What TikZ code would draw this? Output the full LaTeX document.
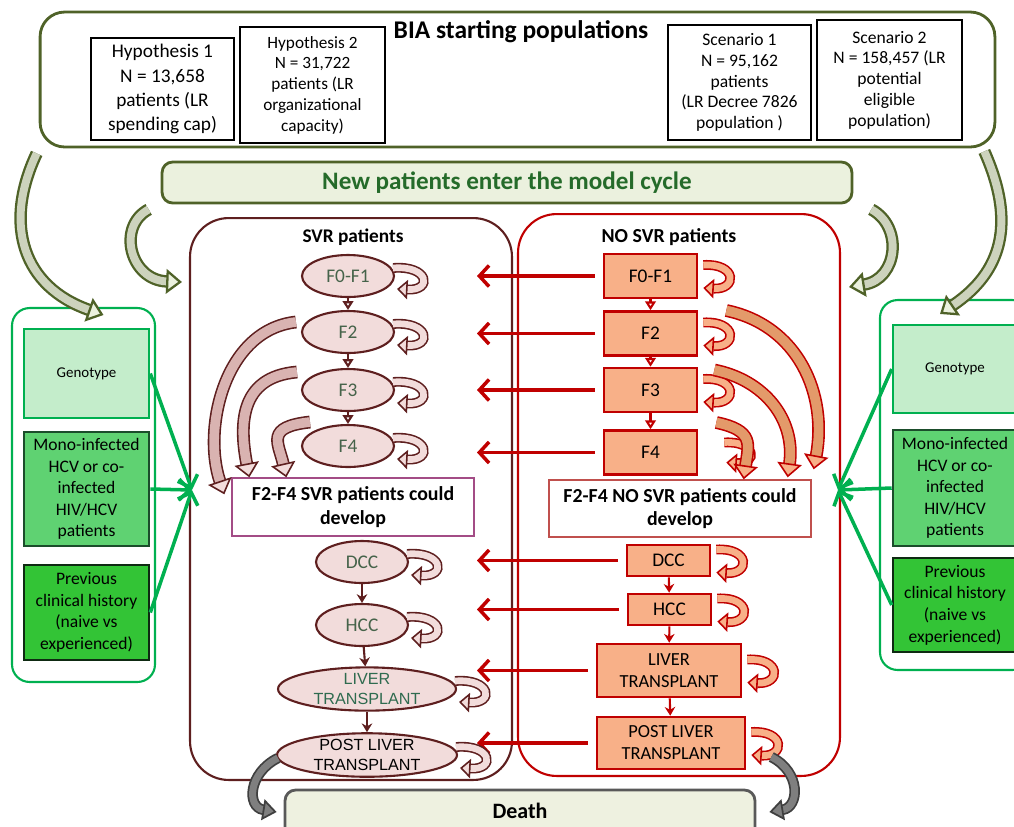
\documentclass[tikz,border=0pt]{standalone}
\usepackage{fontspec}
\setmainfont{Carlito}
\newfontfamily\arialfont{Liberation Sans}
\usetikzlibrary{arrows.meta,shapes.geometric,positioning}
\definecolor{oliveline}{HTML}{4F6228}
\definecolor{olivefill}{HTML}{EBF1DE}
\definecolor{oliveshaft}{HTML}{CDD3BD}
\definecolor{newtext}{HTML}{256B2A}
\definecolor{maroonline}{HTML}{5E1F1F}
\definecolor{pinkfill}{HTML}{F2DCDB}
\definecolor{pinkshaft}{HTML}{D9B3B1}
\definecolor{statetext}{HTML}{46634A}
\definecolor{lttext}{HTML}{2F6B4F}
\definecolor{redline}{HTML}{C00000}
\definecolor{orangefill}{HTML}{F8B088}
\definecolor{orangeshaft}{HTML}{E39A6A}
\definecolor{devsvr}{HTML}{A34C86}
\definecolor{devnosvr}{HTML}{C0504D}
\definecolor{greenline}{HTML}{00B050}
\definecolor{genfill}{HTML}{C4EDCB}
\definecolor{monofill}{HTML}{5FD272}
\definecolor{monoline}{HTML}{1B4D2B}
\definecolor{prevfill}{HTML}{33C436}
\definecolor{prevline}{HTML}{0E2A12}
\definecolor{deathfill}{HTML}{EEF1E0}
\definecolor{deathline}{HTML}{595959}
\definecolor{grayline}{HTML}{3F3F3F}
\definecolor{grayshaft}{HTML}{7F7F7F}

\begin{document}
\begin{tikzpicture}[x=0.02cm,y=0.02cm]
\tikzstyle{every node}+=[inner sep=0pt]
\tikzstyle{popbox}=[draw=black, line width=1.6pt, fill=white, align=center]
\tikzstyle{svrstate}=[ellipse, draw=maroonline, fill=pinkfill, line width=1.2pt, minimum width=1.84cm, minimum height=0.84cm, text=statetext, align=center, font=\fontsize{11}{12}\selectfont]
\tikzstyle{nosvrstate}=[rectangle, draw=redline, fill=orangefill, line width=1.5pt, minimum width=1.86cm, minimum height=0.88cm, align=center, font=\fontsize{11}{12.5}\selectfont]
\tikzstyle{devbox}=[draw, line width=0.8pt, fill=white, align=center, font=\bfseries\fontsize{11.3}{13.5}\selectfont]
\tikzstyle{infobox}=[line width=1.5pt, align=center, font=\fontsize{10}{12.3}\selectfont]
\tikzstyle{svrdown}=[maroonline, line width=1.2pt, -{Triangle[open, length=5pt, width=6pt]}]
\tikzstyle{svrstep}=[maroonline, line width=1.2pt, -{Stealth[length=5pt, width=6pt]}]
\tikzstyle{nosvrdown}=[redline, line width=1.2pt, -{Triangle[open, length=5pt, width=6pt]}]
\tikzstyle{nosvrstep}=[redline, line width=1.2pt, -{Stealth[length=5pt, width=6pt]}]
\tikzstyle{redarrow}=[redline, line width=2pt, shorten <=0.16cm, -{Straight Barb[length=5.5pt, width=12pt]}]
\tikzstyle{greenarrow}=[greenline, line width=2pt, -{Straight Barb[length=6pt, width=12pt]}]
\tikzstyle{svrloop}=[draw=maroonline, line width=0.9pt, double=pinkfill, double distance=3.8pt, -{Triangle[fill=pinkfill, length=6pt, width=11pt, line width=0.9pt]}]
\tikzstyle{nosvrloop}=[draw=redline, line width=0.9pt, double=orangefill, double distance=3.8pt, -{Triangle[fill=orangefill, length=6pt, width=11pt, line width=0.9pt]}]
\tikzstyle{svrbig}=[draw=maroonline, line width=0.9pt, double=pinkshaft, double distance=5.5pt, -{Triangle[fill=pinkfill, length=8pt, width=14pt, line width=0.9pt]}]
\tikzstyle{nosvrbig}=[draw=redline, line width=0.9pt, double=orangeshaft, double distance=5.5pt, -{Triangle[fill=orangefill, length=8pt, width=14pt, line width=0.9pt]}]
\tikzstyle{olivebig}=[draw=oliveline, line width=1.3pt, double=oliveshaft, double distance=4.5pt, -{Triangle[fill=olivefill, length=9pt, width=14pt, line width=1.3pt]}]
\tikzstyle{graybig}=[draw=grayline, line width=1pt, double=grayshaft, double distance=4pt, -{Triangle[fill=grayshaft, length=8pt, width=12pt, line width=1pt]}]
\useasboundingbox (0,0) rectangle (1014,-826);
\node[draw=oliveline, line width=1.6pt, rounded corners=14pt, minimum width=19.1cm, minimum height=2.7cm] (bia) at (517.5,-79.5) {};
\node[font=\bfseries\fontsize{14.5}{16}\selectfont] (biatitle) at (521,-32) {BIA starting populations};
\node[popbox, minimum width=2.86cm, minimum height=2.04cm, font=\fontsize{11}{13.7}\selectfont] (hyp1) at (162.5,-89) {Hypothesis 1\\N = 13,658\\patients (LR\\spending cap)};
\node[popbox, minimum width=2.9cm, minimum height=2.32cm, font=\fontsize{9.8}{11.8}\selectfont] (hyp2) at (312.5,-85) {Hypothesis 2\\N = 31,722\\patients (LR\\organizational\\capacity)};
\node[popbox, minimum width=2.86cm, minimum height=2.3cm, font=\fontsize{10}{11.8}\selectfont] (scen1) at (739.5,-82.5) {Scenario 1\\N = 95,162\\patients\\(LR Decree 7826\\population )};
\node[popbox, minimum width=2.9cm, minimum height=2.4cm, font=\fontsize{10}{11.8}\selectfont] (scen2) at (889.5,-80) {Scenario 2\\N = 158,457 (LR\\potential\\eligible\\population)};
\node[draw=oliveline, fill=olivefill, line width=1.6pt, rounded corners=6pt, minimum width=13.8cm, minimum height=0.82cm, text=newtext, font=\bfseries\fontsize{14.3}{16}\selectfont] (newp) at (507,-182.5) {New patients enter the model cycle};
\node[draw=maroonline, line width=1.2pt, rounded corners=22pt, minimum width=6.44cm, minimum height=11.24cm] (svr) at (351,-499) {};
\node[font=\bfseries\fontsize{11}{12}\selectfont] (svrtitle) at (353,-237) {SVR patients};
\node[draw=redline, line width=1.2pt, rounded corners=22pt, minimum width=6.44cm, minimum height=11.24cm] (nosvr) at (679,-495) {};
\node[font=\bfseries\fontsize{11.3}{12}\selectfont] (nosvrtitle) at (669,-237) {NO SVR patients};
\node[svrstate] (s01) at (348,-276) {F0-F1};
\node[svrstate] (s2) at (348,-332) {F2};
\node[svrstate] (s3) at (348,-390) {F3};
\node[svrstate] (s4) at (348,-446) {F4};
\node[devbox, draw=devsvr, minimum width=4.84cm, minimum height=1.16cm] (sdev) at (353,-507) {F2-F4 SVR patients could\\develop};
\node[svrstate] (sdcc) at (362,-562) {DCC};
\node[svrstate] (shcc) at (362,-625) {HCC};
\node[svrstate, minimum width=3.56cm, text=lttext, font=\arialfont\fontsize{9.2}{11}\selectfont] (slt) at (367,-689) {LIVER\\TRANSPLANT};
\node[svrstate, minimum width=3.6cm, minimum height=0.86cm, text=black, font=\arialfont\fontsize{9.2}{11}\selectfont] (splt) at (367,-755) {POST LIVER\\TRANSPLANT};
\node[nosvrstate] (n01) at (650.5,-276) {F0-F1};
\node[nosvrstate] (n2) at (650.5,-333.5) {F2};
\node[nosvrstate] (n3) at (650.5,-390) {F3};
\node[nosvrstate] (n4) at (650.5,-452.5) {F4};
\node[devbox, draw=devnosvr, minimum width=5.24cm, minimum height=1.14cm] (ndev) at (680,-508.5) {F2-F4 NO SVR patients could\\develop};
\node[nosvrstate, minimum width=1.66cm, minimum height=0.62cm] (ndcc) at (668.5,-560.5) {DCC};
\node[nosvrstate, minimum width=1.66cm, minimum height=0.62cm] (nhcc) at (669.5,-609.5) {HCC};
\node[nosvrstate, minimum width=2.88cm, minimum height=1.06cm, font=\fontsize{10.5}{12.5}\selectfont] (nlt) at (669,-670.5) {LIVER\\TRANSPLANT};
\node[nosvrstate, minimum width=2.96cm, minimum height=1.04cm, font=\fontsize{10.5}{12.5}\selectfont] (nplt) at (671,-743) {POST LIVER\\TRANSPLANT};
\node[draw=deathline, fill=deathfill, line width=1.6pt, rounded corners=6pt, minimum width=9.4cm, minimum height=1.2cm, label={[anchor=north, yshift=-0.28cm, font=\bfseries\fontsize{12.5}{15}\selectfont]north:Death}] (death) at (520,-820) {};
\node[draw=greenline, line width=1.2pt, rounded corners=10pt, minimum width=2.86cm, minimum height=7.48cm] (lpanel) at (83.5,-495) {};
\node[infobox, draw=greenline, fill=genfill, minimum width=2.5cm, minimum height=1.78cm, font=\fontsize{8.5}{10}\selectfont] (lgen) at (86.5,-373.5) {Genotype};
\node[infobox, draw=monoline, fill=monofill, minimum width=2.5cm, minimum height=2.28cm] (lmono) at (86.5,-489) {Mono-infected\\HCV or co-\\infected\\HIV/HCV\\patients};
\node[infobox, draw=prevline, fill=prevfill, minimum width=2.5cm, minimum height=1.9cm] (lprev) at (86.5,-612.5) {Previous\\clinical history\\(naive vs\\experienced)};
\node[draw=greenline, line width=1.2pt, rounded corners=10pt, minimum width=3cm, minimum height=7.4cm] (rpanel) at (955,-485) {};
\node[infobox, draw=greenline, fill=genfill, minimum width=2.48cm, minimum height=1.76cm, font=\fontsize{8.5}{10}\selectfont] (rgen) at (955,-369) {Genotype};
\node[infobox, draw=monoline, fill=monofill, minimum width=2.48cm, minimum height=2.32cm] (rmono) at (955,-488) {Mono-infected\\HCV or co-\\infected\\HIV/HCV\\patients};
\node[infobox, draw=prevline, fill=prevfill, minimum width=2.48cm, minimum height=1.88cm] (rprev) at (955,-605) {Previous\\clinical history\\(naive vs\\experienced)};
\coordinate (svrin) at (477,0);
\coordinate (svrport) at (192,-490);
\coordinate (nosvrport) at (838,-490);
\draw[svrdown] (s01) -- (s2);
\draw[svrdown] (s2) -- (s3);
\draw[svrdown] (s3) -- (s4);
\draw[svrstep] (sdcc) -- (shcc);
\draw[svrstep] (shcc) -- (slt);
\draw[svrstep] (slt) -- (splt);
\draw[nosvrdown] (n01) -- (n2);
\draw[nosvrdown] (n2) -- (n3);
\draw[nosvrdown] (n3) -- (n4);
\draw[nosvrstep] (ndcc) -- (nhcc);
\draw[nosvrstep] (nhcc) -- (nlt);
\draw[nosvrstep] (nlt) -- (nplt);
\draw[redarrow] (n01.west) -- (n01.west -| svrin);
\draw[redarrow] (n2.west) -- (n2.west -| svrin);
\draw[redarrow] (n3.west) -- (n3.west -| svrin);
\draw[redarrow] (n4.west) -- (n4.west -| svrin);
\draw[redarrow] (ndcc.west) -- (ndcc.west -| svrin);
\draw[redarrow] (nhcc.west) -- (nhcc.west -| svrin);
\draw[redarrow] (nlt.west) -- (nlt.west -| svrin);
\draw[redarrow] (nplt.west) -- (nplt.west -| svrin);
\draw[svrloop] ([shift={(-2,8)}]s01.east) .. controls +(36,3) and +(36,-2) .. ([shift={(2,-13)}]s01.east);
\draw[svrloop] ([shift={(-2,8)}]s2.east) .. controls +(36,3) and +(36,-2) .. ([shift={(2,-13)}]s2.east);
\draw[svrloop] ([shift={(-2,8)}]s3.east) .. controls +(36,3) and +(36,-2) .. ([shift={(2,-13)}]s3.east);
\draw[svrloop] ([shift={(-2,8)}]s4.east) .. controls +(36,3) and +(36,-2) .. ([shift={(2,-13)}]s4.east);
\draw[svrloop] ([shift={(-2,8)}]sdcc.east) .. controls +(36,3) and +(36,-2) .. ([shift={(2,-13)}]sdcc.east);
\draw[svrloop] ([shift={(-2,8)}]shcc.east) .. controls +(36,3) and +(36,-2) .. ([shift={(2,-13)}]shcc.east);
\draw[svrloop] ([shift={(-2,8)}]slt.east) .. controls +(36,3) and +(36,-2) .. ([shift={(2,-13)}]slt.east);
\draw[svrloop] ([shift={(-2,8)}]splt.east) .. controls +(36,3) and +(36,-2) .. ([shift={(2,-13)}]splt.east);
\draw[nosvrloop] ([shift={(5,11)}]n01.east) .. controls +(34,2) and +(34,-2) .. ([shift={(5,-12)}]n01.east);
\draw[nosvrloop] ([shift={(5,11)}]n2.east) .. controls +(34,2) and +(34,-2) .. ([shift={(5,-12)}]n2.east);
\draw[nosvrloop] ([shift={(5,11)}]n3.east) .. controls +(34,2) and +(34,-2) .. ([shift={(5,-12)}]n3.east);
\draw[nosvrloop] ([shift={(26,10)}]n4.east) .. controls +(32,2) and +(32,-2) .. ([shift={(28,-10)}]n4.east);
\draw[nosvrloop] ([shift={(5,11)}]ndcc.east) .. controls +(34,2) and +(34,-2) .. ([shift={(5,-12)}]ndcc.east);
\draw[nosvrloop] ([shift={(5,11)}]nhcc.east) .. controls +(34,2) and +(34,-2) .. ([shift={(5,-12)}]nhcc.east);
\draw[nosvrloop] ([shift={(5,11)}]nlt.east) .. controls +(34,2) and +(34,-2) .. ([shift={(5,-12)}]nlt.east);
\draw[nosvrloop] ([shift={(5,11)}]nplt.east) .. controls +(34,2) and +(34,-2) .. ([shift={(5,-12)}]nplt.east);
\draw[svrbig] ([shift={(-5,10)}]s2.west) .. controls +(-72,-8) and +(-22,65) .. ([shift={(-7,-17)}]sdev.north west);
\draw[svrbig] ([shift={(-4,18)}]s3.west) .. controls +(-58,-5) and +(-10,52) .. ([shift={(18,0)}]sdev.north west);
\draw[svrbig] ([shift={(-38,24)}]s4.center) .. controls +(-45,-5) and +(-8,35) .. ([shift={(55,0)}]sdev.north west);
\draw[nosvrbig] ([shift={(28,23)}]n2.east) .. controls +(72,-15) and +(14,75) .. ([shift={(2,10)}]ndev.north east);
\draw[nosvrbig] ([shift={(16,20)}]n3.east) .. controls +(50,-10) and +(8,58) .. ([shift={(-24,2)}]ndev.north east);
\draw[nosvrbig] ([shift={(18,30)}]n4.east) .. controls +(38,-8) and +(5,35) .. ([shift={(-68,0)}]ndev.north east);
\draw[olivebig] ([shift={(-2,-5)}]bia.south west) .. controls +(-34,-72) and +(-80,28) .. ([shift={(20,-8)}]lpanel.north);
\draw[olivebig] ([shift={(-12,-5)}]newp.south west) .. controls +(-32,-17) and +(-52,2) .. ([shift={(-7,-65)}]svr.north west);
\draw[olivebig] ([shift={(-12,-3)}]bia.south east) .. controls +(32,-72) and +(62,42) .. ([shift={(-15,-15)}]rpanel.north);
\draw[olivebig] ([shift={(18,-5)}]newp.south east) .. controls +(32,-17) and +(49,8) .. ([shift={(8,-74)}]nosvr.north east);
\draw[graybig] ([shift={(2,-3)}]splt.west) .. controls +(-30,-15) and +(-30,5) .. ([shift={(-7,8)}]death.west);
\draw[graybig] ([shift={(25,-14)}]nplt.east) .. controls +(30,-15) and +(30,5) .. ([shift={(13,8)}]death.east);
\draw[greenarrow] (lgen.east) -- (svrport);
\draw[greenarrow] (lmono.east) -- (svrport);
\draw[greenarrow] (lprev.east) -- (svrport);
\draw[greenarrow] (rgen.west) -- (nosvrport);
\draw[greenarrow] (rmono.west) -- (nosvrport);
\draw[greenarrow] (rprev.west) -- (nosvrport);
\end{tikzpicture}
\end{document}
